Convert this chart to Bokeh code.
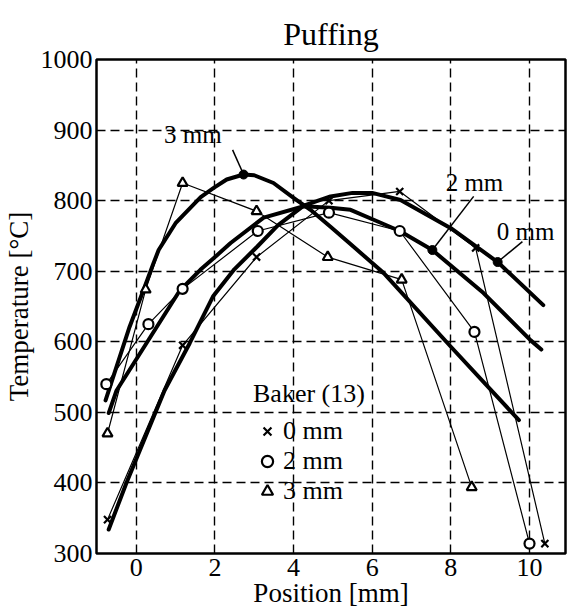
from bokeh.plotting import figure
from bokeh.models import Range1d, FixedTicker, Legend, LegendItem
from bokeh.core.properties import value
from bokeh.embed import file_html
from bokeh.resources import INLINE

# ---------------- data ----------------
x_ticks = [0, 2, 4, 6, 8, 10]
y_ticks = [300, 400, 500, 600, 700, 800, 900, 1000]

# Baker (13) measurements
baker0_pos = [-0.73, 1.18, 3.06, 4.90, 6.70, 8.63, 10.39]
baker0_T = [348, 595, 720, 800, 813, 733, 314]
baker2_pos = [-0.76, 0.31, 1.18, 3.09, 4.90, 6.70, 8.60, 10.00]
baker2_T = [540, 625, 675, 757, 783, 757, 614, 314]
baker3_pos = [-0.73, 0.24, 1.18, 3.06, 4.87, 6.75, 8.53]
baker3_T = [470, 674, 825, 785, 720, 688, 394]

# model curves
m0_pos = [-0.70, -0.25, 0.72, 1.36, 1.96, 2.50, 3.08, 3.60, 4.26, 4.94, 5.50, 6.00, 6.72, 8.00, 9.19, 10.35]
m0_T = [334, 400, 531, 598, 665, 703, 735, 765, 793, 806, 811, 811, 801, 761, 713, 652]
m2_pos = [-0.70, -0.50, 0.26, 1.10, 1.63, 2.04, 2.40, 3.24, 4.26, 4.94, 5.45, 6.20, 6.70, 7.53, 8.83, 10.03, 10.30]
m2_T = [499, 531, 598, 672, 702, 722, 740, 776, 792, 790, 787, 769, 757, 730, 669, 602, 589]
m3_pos = [-0.78, -0.17, 0.19, 0.43, 0.57, 1.00, 1.64, 1.97, 2.30, 2.73, 3.00, 3.49, 4.00, 4.43, 4.94, 5.52, 6.30, 8.00, 9.73]
m3_T = [517, 621, 674, 710, 730, 768, 805, 818, 830, 837, 836, 825, 804, 787, 763, 735, 697, 593, 489]

# curve labels
curve_names = ["0 mm", "2 mm", "3 mm"]
name_pos = [9.90, 8.60, 1.44]
name_T = [756, 826, 894]
leader_pos0 = [9.82, 8.58, 2.45]
leader_T0 = [742, 806, 872]
leader_pos1 = [9.19, 7.53, 2.73]
leader_T1 = [713, 730, 837]

FONT = "Liberation Serif"

p = figure(width=567, height=610, title="Puffing", output_backend="svg", toolbar_location=None,
           x_range=Range1d(-1.01, 10.915), y_range=Range1d(300, 1000),
           min_border_left=96, min_border_top=59, min_border_bottom=57, min_border_right=2)
p.background_fill_color = "white"
p.border_fill_color = "white"
p.outline_line_color = "black"
p.outline_line_width = 2.5

p.title.align = "center"
p.title.text_font = FONT
p.title.text_font_size = "32px"
p.title.text_font_style = "normal"
p.title.text_color = "black"
p.title.standoff = 16

for ax in (p.xaxis[0], p.yaxis[0]):
    ax.axis_line_color = None
    ax.major_tick_line_color = None
    ax.minor_tick_line_color = None
    ax.major_tick_out = 0
    ax.major_tick_in = 0
    ax.minor_tick_out = 0
    ax.minor_tick_in = 0
    ax.major_label_text_font = FONT
    ax.major_label_text_font_size = "26px"
    ax.major_label_text_color = "black"
    ax.axis_label_text_font = FONT
    ax.axis_label_text_font_size = "27px"
    ax.axis_label_text_font_style = "normal"
    ax.axis_label_text_color = "black"
p.xaxis.ticker = FixedTicker(ticks=x_ticks)
p.yaxis.ticker = FixedTicker(ticks=y_ticks)
p.xaxis.major_label_standoff = 5
p.yaxis.major_label_standoff = 4
p.xaxis.axis_label = "Position [mm]"
p.yaxis.axis_label = "Temperature [°C]"
p.xaxis.axis_label_standoff = -1
p.yaxis.axis_label_standoff = 4

for g in (p.xgrid[0], p.ygrid[0]):
    g.grid_line_color = "black"
    g.grid_line_dash = "9 5"
    g.grid_line_width = 1.4
p.xgrid.ticker = FixedTicker(ticks=x_ticks)
p.ygrid.ticker = FixedTicker(ticks=y_ticks)

# thin Baker lines
for xs, ys in ((baker0_pos, baker0_T), (baker2_pos, baker2_T), (baker3_pos, baker3_T)):
    p.line(xs, ys, line_color="black", line_width=1.2)

# thick model curves
for xs, ys in ((m0_pos, m0_T), (m2_pos, m2_T), (m3_pos, m3_T)):
    p.line(xs, ys, line_color="black", line_width=4, line_join="round", line_cap="round")

# leader lines and dots
p.segment(x0=leader_pos0, y0=leader_T0, x1=leader_pos1, y1=leader_T1, line_color="black", line_width=1.5)
p.scatter(leader_pos1, leader_T1, marker="circle", size=9, fill_color="black", line_color="black")

# Baker markers
r0 = p.scatter(baker0_pos, baker0_T, marker="x", size=10, line_color="black", line_width=2.2)
r2 = p.scatter(baker2_pos, baker2_T, marker="circle", size=10, fill_color="white", line_color="black", line_width=2.2)
r3 = p.scatter(baker3_pos, baker3_T, marker="triangle", size=10, fill_color="white", line_color="black", line_width=2.2)

# curve names
p.text(x=name_pos, y=name_T, text=curve_names, text_font=value(FONT), text_font_size="25px",
       text_align="center", text_baseline="middle", text_color="black")

legend = Legend(items=[LegendItem(label="0 mm", renderers=[r0]),
                       LegendItem(label="2 mm", renderers=[r2]),
                       LegendItem(label="3 mm", renderers=[r3])],
                location=(157, 47), title="Baker (13)", orientation="vertical")
legend.title_text_font = FONT
legend.title_text_font_size = "26px"
legend.title_text_font_style = "normal"
legend.title_text_color = "black"
legend.title_standoff = 7
legend.label_text_font = FONT
legend.label_text_font_size = "26px"
legend.label_text_color = "black"
legend.label_height = 30
legend.glyph_height = 30
legend.glyph_width = 28
legend.label_standoff = 2
legend.spacing = 0
legend.padding = 0
legend.margin = 0
legend.border_line_color = None
legend.background_fill_alpha = 0
p.add_layout(legend, "center")

open("out.html", "w").write(file_html(p, INLINE))
